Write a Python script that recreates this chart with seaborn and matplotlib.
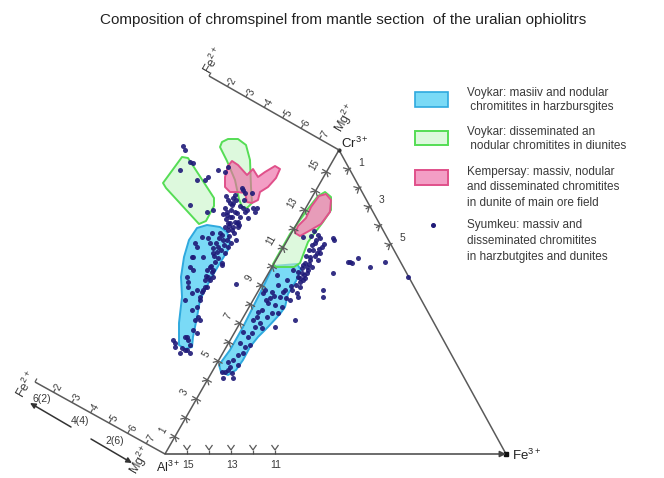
import numpy as np
import matplotlib
matplotlib.use('Agg')
import matplotlib.pyplot as plt
import seaborn as sns
import pandas as pd
from matplotlib.patches import Polygon, Rectangle

# diagram units = pixel grid of the original figure (y grows downward)
AL = (165, 454)
CR = (339, 150)
FE3 = (506, 454)
FE2_TOP = (209, 76)
FE2_LOW = (35, 382)

alcr_ticks = list(range(1, 16))
alcr_labels = ['1', '3', '5', '7', '9', '11', '13', '15']
base_ticks = [15, 14, 13, 12, 11]
base_labels = ['15', '13', '11']
right_ticks = [1, 2, 3, 4, 5]
right_labels = ['1', '3', '5']
fe2_ticks = [1, 2, 3, 4, 5, 6, 7]
fe2_labels = ['2', '3', '4', '5', '6', '7']

# outlines of fields
voykar_massive_1 = [(207, 225), (220, 227), (227, 232), (230, 242), (228, 250), (220, 263), (210, 280),
                    (200, 300), (197, 317), (193, 337), (192, 347), (185, 349), (179, 345), (179, 323),
                    (182, 297), (181, 277), (184, 257), (189, 240), (197, 228)]
voykar_massive_2 = [(273, 266), (297, 264), (301, 270), (296, 281), (288, 294), (285, 307), (280, 314),
                    (268, 327), (258, 337), (250, 347), (243, 360), (236, 370), (228, 375), (221, 372),
                    (219, 365), (230, 350), (243, 327), (255, 303), (265, 283)]
voykar_dissem_1 = [(163, 183), (182, 157), (188, 158), (214, 198), (214, 206), (206, 221), (199, 224),
                   (166, 188)]
voykar_dissem_2 = [(220, 147), (222, 142), (228, 139), (238, 139), (246, 145), (250, 160), (251, 187),
                   (252, 203), (247, 208), (242, 207), (239, 199), (235, 180), (227, 161)]
voykar_dissem_3 = [(318, 196), (325, 192), (331, 197), (331, 210), (323, 222), (308, 242), (300, 263),
                   (294, 267), (276, 267), (273, 264), (290, 234), (307, 210)]
kempersay_1 = [(232, 161), (238, 165), (247, 175), (253, 169), (258, 177), (265, 172), (275, 166),
               (280, 169), (276, 178), (268, 187), (260, 192), (258, 200), (252, 203), (247, 202),
               (245, 193), (237, 192), (230, 192), (225, 187), (225, 177), (228, 166)]
kempersay_2 = [(319, 196), (326, 194), (331, 200), (330, 212), (321, 224), (309, 231), (300, 236),
               (295, 233), (298, 226), (306, 218), (311, 207)]

# Syumkeu analyses
syumkeu_x = [183, 185, 190, 193, 180, 197, 205, 208, 190, 207, 213, 218, 225, 228,
             233, 235, 230, 225, 232, 227, 230, 235, 237, 227, 232, 235, 230, 237, 238, 233,
             232, 228, 225, 228, 238, 240, 243, 242, 245, 252, 243, 245, 247, 253, 255, 248, 257,
             212, 222, 227, 228, 225, 222, 220, 223, 218, 213, 210, 208, 205, 200, 197, 213,
             210, 207, 202, 197, 200, 195, 192, 193, 188, 192, 198, 200, 185, 185, 175, 180,
             187, 190, 197, 210, 213, 203, 193, 197, 208, 202, 190, 187, 188, 192, 193, 187,
             190, 185, 182, 175, 173, 188, 236, 195, 213, 205, 203, 207, 222,
             228, 236, 231, 226, 239, 234, 229, 236, 224, 221, 218, 215, 212, 216, 219, 240, 244,
             226, 233, 229, 223, 231, 217, 214, 211, 206,
             318, 320, 315, 322, 313, 320, 310, 318, 305, 308, 302, 300, 303, 312, 307, 305,
             317, 310, 307, 303, 300, 297, 298, 293, 298, 303, 300, 333, 334, 348, 352, 350,
             358, 370, 385, 333, 323, 323, 408, 295, 275,
             316, 312, 309, 306, 302, 298, 304, 296, 292, 290, 286, 314, 311, 324, 319, 315, 309,
             263, 277, 278, 272, 280, 283, 268, 275, 282, 272, 267, 278, 253, 260, 262, 255,
             252, 243, 250, 240, 243, 233, 238, 230, 225, 232, 223, 233, 222, 228, 287, 291, 285,
             265, 270, 262, 257, 248, 245, 238, 228, 258, 266, 274]
syumkeu_y = [146, 150, 162, 163, 170, 180, 180, 177, 205, 212, 210, 170, 172, 167,
             198, 195, 203, 208, 205, 212, 217, 212, 213, 215, 217, 222, 223, 223, 227, 227,
             230, 230, 227, 223, 222, 217, 190, 188, 193, 193, 208, 212, 210, 208, 212, 218, 208,
             233, 235, 240, 247, 253, 263, 233, 240, 247, 253, 267, 277, 287, 297, 307, 277,
             280, 287, 292, 290, 300, 243, 257, 270, 282, 310, 317, 320, 300, 337, 343, 353,
             350, 353, 333, 243, 248, 257, 257, 247, 238, 237, 267, 277, 287, 293, 330, 337,
             345, 350, 348, 347, 340, 340, 284, 320, 270, 280, 290, 270, 265,
             200, 200, 210, 219, 225, 233, 236, 240, 245, 250, 258, 262, 272, 243, 238, 206, 200,
             196, 203, 226, 214, 243, 252, 256, 266, 276,
             235, 238, 243, 247, 250, 253, 257, 260, 263, 270, 273, 278, 237, 267, 273, 278,
             253, 260, 267, 280, 287, 293, 297, 270, 277, 265, 282, 238, 240, 262, 263, 262,
             258, 267, 262, 273, 290, 297, 277, 320, 327,
             240, 245, 250, 256, 268, 272, 275, 285, 290, 300, 298, 231, 236, 244, 249, 256, 264,
             293, 275, 285, 292, 297, 292, 303, 305, 307, 313, 317, 313, 320, 323, 328, 327,
             333, 332, 345, 343, 353, 360, 365, 367, 372, 373, 378, 378, 372, 370, 280, 286, 290,
             290, 298, 310, 317, 337, 347, 355, 362, 312, 300, 296]

legend_text = [
    ['Voykar: masiiv and nodular', ' chromitites in harzbursgites'],
    ['Voykar: disseminated an', ' nodular chromitites in diunites'],
    ['Kempersay: massiv, nodular', 'and disseminated chromitites', 'in dunite of main ore field'],
    ['Syumkeu: massiv and', 'disseminated chromitites', 'in harzbutgites and dunites'],
]

BLUE_FACE = (0.20, 0.78, 0.95, 0.65)
BLUE_EDGE = '#2fa9de'
GREEN_FACE = (0.78, 0.96, 0.78, 0.6)
GREEN_EDGE = '#55dd55'
PINK_FACE = (0.93, 0.42, 0.65, 0.65)
PINK_EDGE = '#e0508a'
DOT = '#1f1a78'
LINE = '#5a5a5a'
TXT = '#3a3a3a'

sns.set_theme(style='white')
plt.rcParams['font.family'] = ['Liberation Sans', 'DejaVu Sans']
plt.rcParams['mathtext.fontset'] = 'custom'
plt.rcParams['mathtext.rm'] = 'Liberation Sans'
plt.rcParams['mathtext.it'] = 'Liberation Sans'

fig = plt.figure(figsize=(6.64, 4.78), dpi=100)
ax = fig.add_axes([0, 0, 1, 1])
ax.set_xlim(0, 664)
ax.set_ylim(478, 0)
ax.axis('off')


def unit(a, b):
    v = np.array(b, float) - np.array(a, float)
    return v / np.hypot(*v)


def seg(p, q, lw=1.0):
    ax.plot([p[0], q[0]], [p[1], q[1]], color=LINE, lw=lw, solid_capstyle='butt')


def cross_mark(p, d, n, size=5):
    seg(p - size * n, p + size * n, 0.9)
    seg(p - 4 * d + 4 * n, p, 0.9)
    seg(p - 4 * d - 4 * n, p, 0.9)


for poly, fc, ec in [(voykar_massive_1, BLUE_FACE, BLUE_EDGE), (voykar_massive_2, BLUE_FACE, BLUE_EDGE),
                     (voykar_dissem_1, GREEN_FACE, GREEN_EDGE), (voykar_dissem_2, GREEN_FACE, GREEN_EDGE),
                     (kempersay_1, PINK_FACE, PINK_EDGE), (voykar_dissem_3, GREEN_FACE, GREEN_EDGE),
                     (kempersay_2, PINK_FACE, PINK_EDGE)]:
    ax.add_patch(Polygon(poly, closed=True, facecolor=fc, edgecolor=ec, lw=1.4, zorder=2,
                         joinstyle='round'))

# Syumkeu dots over the fields
pts = pd.DataFrame({'x': syumkeu_x, 'y': syumkeu_y})
sns.scatterplot(data=pts, x='x', y='y', ax=ax, color=DOT, s=13, linewidth=0, alpha=0.9,
                legend=False, zorder=3)
ax.set_xlabel('')
ax.set_ylabel('')

# triangle edges
al, cr, fe3 = np.array(AL, float), np.array(CR, float), np.array(FE3, float)
seg(al, cr, 1.1)
seg(cr, fe3, 1.1)
ax.annotate('', xy=FE3, xytext=AL,
            arrowprops=dict(arrowstyle='-|>', color='#444444', lw=1.1, mutation_scale=9,
                            shrinkA=0, shrinkB=0))
ax.plot([FE3[0]], [FE3[1]], marker='s', ms=3, color='#111111')
ax.plot([CR[0]], [CR[1]], marker='o', ms=2, color='#333333')

# Al-Cr edge ticks
d = unit(al, cr)
n = np.array([-d[1], d[0]])
if n[0] > 0:
    n = -n
for k in alcr_ticks:
    p = al + (20 + 21.8 * (k - 1)) * d
    cross_mark(p, d, n)
    if str(k) in alcr_labels:
        q = p + 14 * n
        ax.text(q[0], q[1], str(k), fontsize=7, color=TXT, rotation=60, ha='center', va='center')

# Al-Fe3+ edge ticks
for i, k in enumerate(base_ticks):
    x = AL[0] + 22 * (i + 1)
    y = AL[1]
    seg((x - 3.5, y - 9), (x, y - 4), 0.9)
    seg((x + 3.5, y - 9), (x, y - 4), 0.9)
    seg((x, y - 4), (x, y), 0.9)
    if str(k) in base_labels:
        ax.text(x + 1, y + 11, str(k), fontsize=7.5, color=TXT, ha='center', va='center')

# Cr-Fe3+ edge ticks
d = unit(cr, fe3)
n = np.array([-d[1], d[0]])
if n[0] < 0:
    n = -n
for k in right_ticks:
    p = cr + 21.5 * k * d
    seg(p - 5 * n, p + 2 * n, 0.9)
    seg(p - 4 * d - 5 * n, p - 1 * n, 0.9)
    seg(p + 4 * d - 5 * n, p - 1 * n, 0.9)
    if str(k) in right_labels:
        q = p + 13 * n
        ax.text(q[0], q[1], str(k), fontsize=7.5, color=TXT, ha='center', va='center')

# Fe2+/Mg2+ scales
for start, end in [(FE2_TOP, CR), (FE2_LOW, AL)]:
    s, e = np.array(start, float), np.array(end, float)
    seg(s, e, 1.1)
    d = unit(s, e)
    n = np.array([d[1], -d[0]])
    for k in fe2_ticks:
        p = s + 21.2 * (k - 1) * d
        seg(p, p + 4 * n, 0.9)
        if str(k) in fe2_labels:
            q = p + 7 * n + 2 * d
            ax.text(q[0], q[1], str(k), fontsize=7, color=TXT, rotation=60, ha='center', va='center')

ax.text(213, 61, r'Fe$^{2+}$', fontsize=9, color=TXT, rotation=60, ha='center', va='center')
ax.text(346, 118, r'Mg$^{2+}$', fontsize=9, color=TXT, rotation=60, ha='center', va='center')
ax.text(341, 143, r'Cr$^{3+}$', fontsize=9.5, color='#222222', ha='left', va='center')
ax.text(26, 385, r'Fe$^{2+}$', fontsize=9, color=TXT, rotation=60, ha='center', va='center')
ax.text(141, 460, r'Mg$^{2+}$', fontsize=9, color=TXT, rotation=60, ha='center', va='center')
ax.text(156, 467, r'Al$^{3+}$', fontsize=9, color='#222222', ha='left', va='center')
ax.text(512, 455, r'Fe$^{3+}$', fontsize=9.5, color='#222222', ha='left', va='center')

# direction arrows of the lower scale
ax.annotate('', xy=(30, 403), xytext=(71, 427),
            arrowprops=dict(arrowstyle='-|>', color='#333333', lw=1.1, mutation_scale=8,
                            shrinkA=0, shrinkB=0))
ax.annotate('', xy=(132, 463), xytext=(91, 439),
            arrowprops=dict(arrowstyle='-|>', color='#333333', lw=1.1, mutation_scale=8,
                            shrinkA=0, shrinkB=0))
ax.text(42, 399, '6(2)', fontsize=7.5, color=TXT, ha='center', va='center')
ax.text(80, 421, '4(4)', fontsize=7.5, color=TXT, ha='center', va='center')
ax.text(115, 441, '2(6)', fontsize=7.5, color=TXT, ha='center', va='center')

# legend
ax.add_patch(Rectangle((415, 92), 33, 15, facecolor=BLUE_FACE, edgecolor=BLUE_EDGE, lw=1.2))
ax.add_patch(Rectangle((415, 131), 33, 14, facecolor=GREEN_FACE, edgecolor=GREEN_EDGE, lw=1.4))
ax.add_patch(Rectangle((415, 170), 33, 15, facecolor=PINK_FACE, edgecolor=PINK_EDGE, lw=1.4))
ax.plot([433], [225], marker='o', ms=2.6, color=DOT)
line_y = [[93, 107], [132, 146], [172, 187, 203], [225, 241, 257]]
for lines, ys in zip(legend_text, line_y):
    for t, y in zip(lines, ys):
        ax.text(467, y, t, fontsize=8.5, color=TXT, ha='left', va='center')

ax.text(343, 20, 'Composition of chromspinel from mantle section  of the uralian ophiolitrs',
        fontsize=11, color='#222222', ha='center', va='center')

fig.savefig('out.png', dpi=100)
